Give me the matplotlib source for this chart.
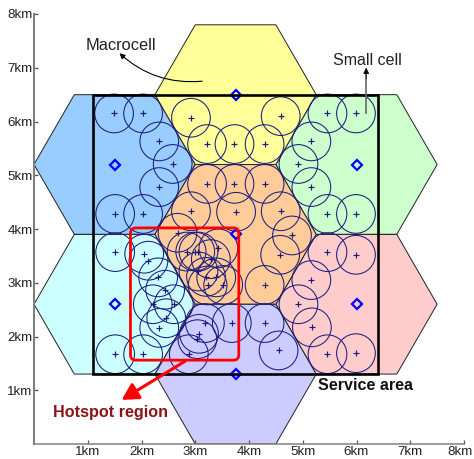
import matplotlib
matplotlib.use("Agg")
import matplotlib.pyplot as plt
from matplotlib.patches import Polygon, Circle, Rectangle, FancyBboxPatch, FancyArrowPatch
from matplotlib.transforms import ScaledTranslation
import numpy as np

plt.rcParams["font.family"] = ["Liberation Sans", "DejaVu Sans"]

# macrocell centres (km) and fill colours
macro_x = [1.5, 6.0, 1.5, 6.0, 3.75, 3.75, 3.75]
macro_y = [5.2, 5.2, 2.6, 2.6, 6.5, 3.9, 1.3]
macro_colors = ["#99ccff", "#ccffcc", "#ccffff", "#ffcccc", "#ffff99", "#ffcc99", "#ccccff"]
macro_radius = 1.5

# small cell centres (km)
small_blue = [(1.49, 6.15), (2.03, 6.15), (2.33, 5.63), (2.58, 5.21), (2.33, 4.78), (1.51, 4.28), (2.03, 4.28)]
small_green = [(5.46, 6.15), (5.99, 6.15), (5.16, 5.63), (4.92, 5.21), (5.16, 4.78), (5.46, 4.28), (5.99, 4.28)]
small_yellow = [(2.92, 6.07), (3.22, 5.58), (3.73, 5.58), (4.59, 6.10), (4.29, 5.58)]
small_orange = [(3.22, 4.84), (3.73, 4.84), (4.29, 4.84), (2.92, 4.33), (3.76, 4.32), (4.59, 4.33),
                (4.80, 3.88), (4.58, 3.52), (4.29, 2.96), (2.67, 3.93), (2.84, 3.58), (3.00, 3.58),
                (3.06, 3.58), (3.43, 3.64), (3.29, 3.44), (3.06, 3.21), (3.20, 3.11), (3.39, 3.10),
                (3.23, 2.95), (3.52, 2.96)]
small_cyan = [(1.51, 3.57), (2.05, 3.54), (2.13, 3.41), (2.31, 3.10), (2.44, 2.87), (2.21, 2.60),
              (2.60, 2.60), (2.46, 2.34), (2.33, 2.16), (1.51, 1.67), (2.03, 1.67)]
small_lavender = [(3.18, 2.25), (3.07, 2.05), (3.04, 1.95), (2.88, 1.67), (3.68, 2.25), (4.29, 2.25), (4.55, 1.74)]
small_pink = [(5.46, 3.57), (5.99, 3.52), (5.16, 3.05), (4.92, 2.60), (5.17, 2.17), (5.46, 1.67), (5.99, 1.69)]
small_radius = 0.36

ticks = [1, 2, 3, 4, 5, 6, 7, 8]
tick_labels = ["1km", "2km", "3km", "4km", "5km", "6km", "7km", "8km"]

W, H = 474, 459
fig = plt.figure(figsize=(W / 100, H / 100), dpi=100)
ax = fig.add_axes([34 / W, (H - 444) / H, 430 / W, 430 / H])
ax.set_xlim(0, 8)
ax.set_ylim(0, 8)

for cx, cy, col in zip(macro_x, macro_y, macro_colors):
    r = macro_radius
    h = r * np.sqrt(3) / 2
    pts = [(cx - r, cy), (cx - r / 2, cy + h), (cx + r / 2, cy + h), (cx + r, cy), (cx + r / 2, cy - h), (cx - r / 2, cy - h)]
    ax.add_patch(Polygon(pts, closed=True, fc=col, ec="#222222", lw=0.7, zorder=1))

navy = "#1c1c80"
all_small = small_blue + small_green + small_yellow + small_orange + small_cyan + small_lavender + small_pink
for sx, sy in all_small:
    ax.add_patch(Circle((sx, sy), small_radius, fc="none", ec=navy, lw=0.75, zorder=2))
ax.plot([p[0] for p in all_small], [p[1] for p in all_small], "+", color=navy, ms=4.8, mew=0.85, zorder=3, clip_on=False)

ax.plot(macro_x, macro_y, "D", mfc="none", mec="#0000ff", mew=1.6, ms=4.6, zorder=4, clip_on=False)

# service area and hotspot
ax.add_patch(Rectangle((1.1, 1.3), 5.3, 5.2, fc="none", ec="black", lw=1.9, zorder=5))
ax.add_patch(FancyBboxPatch((1.795, 1.56), 2.015, 2.46, boxstyle="round,pad=0,rounding_size=0.1",
                            fc="none", ec="#ff0000", lw=2, zorder=6))

ax.add_patch(FancyArrowPatch((2.81, 1.54), (1.63, 0.82), arrowstyle="-|>,head_length=0.55,head_width=0.3",
                             mutation_scale=18, color="#ff0000", lw=2.2, zorder=7, shrinkA=0, shrinkB=0))
ax.add_patch(FancyArrowPatch((3.13, 6.75), (1.59, 7.27), connectionstyle="arc3,rad=-0.22", arrowstyle="-|>",
                             mutation_scale=8, color="black", lw=0.8, zorder=7, shrinkA=0, shrinkB=0))
ax.plot([6.18, 6.18], [6.16, 6.88], color="#666666", lw=1.2, zorder=7)
ax.add_patch(FancyArrowPatch((6.18, 6.8), (6.18, 7.0), arrowstyle="-|>", mutation_scale=9,
                             color="black", lw=0.5, zorder=7, shrinkA=0, shrinkB=0))

ax.text(1.61, 7.42, "Macrocell", fontsize=11.8, ha="center", va="center", color="#222222")
ax.text(6.21, 7.14, "Small cell", fontsize=11.5, ha="center", va="center", color="#222222")
ax.text(6.16, 1.08, "Service area", fontsize=11.6, fontweight="bold", ha="center", va="center", color="#111111")
ax.text(1.42, 0.58, "Hotspot region", fontsize=11.6, fontweight="bold", ha="center", va="center", color="#8b1414")

for s in ["top", "right"]:
    ax.spines[s].set_visible(False)
ax.spines["left"].set_color("#808080")
ax.spines["left"].set_linewidth(1.5)
ax.spines["bottom"].set_color("#808080")
ax.spines["bottom"].set_linewidth(1.1)
ax.set_xticks(ticks)
ax.set_xticklabels(tick_labels)
ax.set_yticks(ticks)
ax.set_yticklabels(tick_labels)
ax.tick_params(axis="both", direction="in", length=3, width=0.9, color="#555555", labelsize=9.6, labelcolor="#222222")
ax.tick_params(axis="x", pad=1.2)
ax.tick_params(axis="y", pad=1)
ax.patch.set_alpha(0)

# last x label sits a little left of its tick so it stays inside the image
last = ax.get_xticklabels()[-1]
last.set_transform(last.get_transform() + ScaledTranslation(-3.5 / 100, 0, fig.dpi_scale_trans))

fig.savefig("out.png", dpi=100)
